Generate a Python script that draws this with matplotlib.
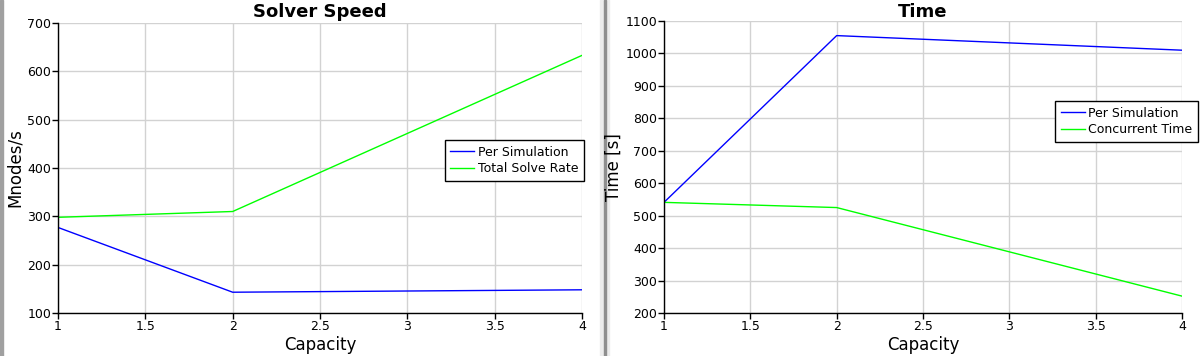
import matplotlib
matplotlib.use("Agg")
import matplotlib.pyplot as plt
from matplotlib.patches import Rectangle

capacity = [1, 2, 4]

# Solver speed (Mnodes/s)
speed_per_sim = [277, 143, 148]
speed_total = [298, 310, 633]

# Time (s)
time_per_sim = [541, 1055, 1010]
time_concurrent = [541, 525, 252]

W, H = 1202, 356
fig = plt.figure(figsize=(W / 100, H / 100), dpi=100)
fig.patch.set_facecolor("white")

# panel borders / separator
fig.patches.append(Rectangle((0, 0), 3 / W, 1, transform=fig.transFigure,
                             color="#a0a0a0", zorder=-5))
fig.patches.append(Rectangle((600 / W, 0), 9 / W, 1, transform=fig.transFigure,
                             color="#ececec", zorder=-5))
fig.patches.append(Rectangle((603.5 / W, 0), 2.5 / W, 1, transform=fig.transFigure,
                             color="#8f8f8f", zorder=-4))


def px_axes(x0, x1, ytop, ybot):
    return fig.add_axes([x0 / W, (H - ybot) / H, (x1 - x0) / W, (ybot - ytop) / H])


def style(ax):
    for s in ["top", "right"]:
        ax.spines[s].set_visible(False)
    for s in ["left", "bottom"]:
        ax.spines[s].set_color("black")
        ax.spines[s].set_linewidth(1.0)
    ax.grid(True, color="#d2d2d2", linewidth=1.0)
    ax.set_axisbelow(True)
    ax.tick_params(direction="out", length=4, width=1, labelsize=9, pad=1)
    ax.set_xlim(1, 4)
    ax.set_xticks([1, 1.5, 2, 2.5, 3, 3.5, 4])
    ax.set_xticklabels(["1", "1.5", "2", "2.5", "3", "3.5", "4"])


leg_kw = dict(bbox_transform=fig.transFigure, fontsize=9, frameon=True,
              fancybox=False, edgecolor="black", framealpha=1, handlelength=1.9,
              handletextpad=0.3, borderpad=0.45, labelspacing=0.3, borderaxespad=0)

ax1 = px_axes(58, 582, 23, 313)
ax1.plot(capacity, speed_per_sim, color="#0000ff", lw=1, label="Per Simulation")
ax1.plot(capacity, speed_total, color="#00ff00", lw=1, label="Total Solve Rate")
style(ax1)
ax1.set_ylim(100, 700)
ax1.set_yticks(range(100, 701, 100))
ax1.set_title("Solver Speed", fontsize=13, fontweight="bold", pad=4)
ax1.set_xlabel("Capacity", fontsize=12, labelpad=2)
ax1.set_ylabel("Mnodes/s", fontsize=12, labelpad=2)
ax1.legend(loc="upper right", bbox_to_anchor=(584 / W, (H - 140) / H), **leg_kw)

ax2 = px_axes(664, 1182, 21, 313)
ax2.plot(capacity, time_per_sim, color="#0000ff", lw=1, label="Per Simulation")
ax2.plot(capacity, time_concurrent, color="#00ff00", lw=1, label="Concurrent Time")
style(ax2)
ax2.set_ylim(200, 1100)
ax2.set_yticks(range(200, 1101, 100))
ax2.set_title("Time", fontsize=13, fontweight="bold", pad=2)
ax2.set_xlabel("Capacity", fontsize=12, labelpad=2)
ax2.set_ylabel("Time [s]", fontsize=12, labelpad=2)
ax2.legend(loc="upper right", bbox_to_anchor=(1198 / W, (H - 101) / H), **leg_kw)

fig.savefig("out.png", dpi=100)
